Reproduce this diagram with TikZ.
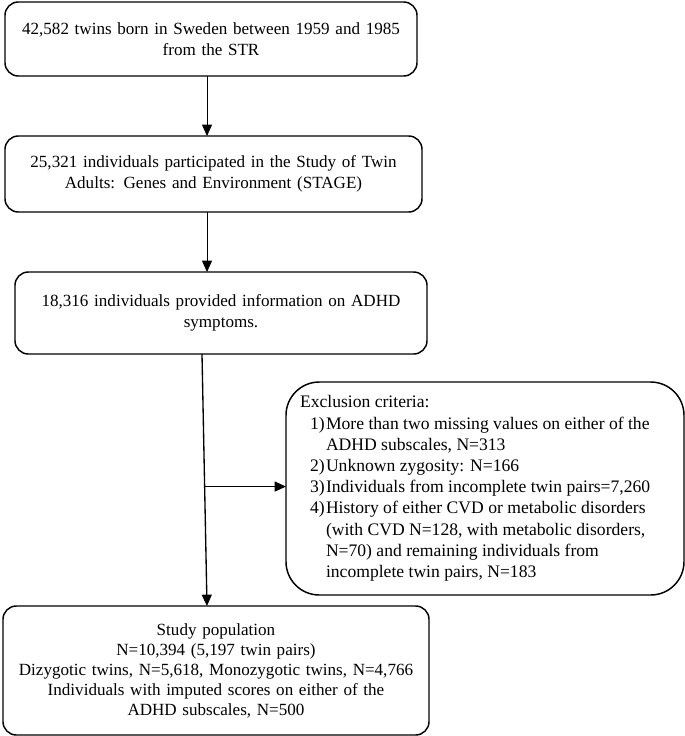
\documentclass[tikz,border=0pt]{standalone}
\usepackage{fontspec}
\setmainfont{Liberation Serif}
\usepackage{tikz}
\usetikzlibrary{shapes.geometric, arrows.meta, positioning}
\tikzstyle{flowbox} =
[rectangle, rounded corners = 10pt, minimum width = 309pt, minimum height = 56pt,
inner sep = 0pt, outer sep = 0pt, text centered, text width = 305pt,
draw=black, line width = 1.1pt]
\tikzstyle{exclbox} =
[rectangle, rounded corners = 25pt, minimum width = 298.5pt, minimum height = 159.75pt,
inner sep = 0pt, outer sep = 0pt, align = left, draw=black, line width = 1.1pt,
font = \fontsize{13.2}{15.9}\selectfont]
\tikzstyle{line} = [draw, line width = 0.6pt, -{Triangle[width=7.5pt,length=8.5pt]}]
\tikzstyle{mainline} = [line, line width = 1pt]
% lines of the exclusion box
\newcommand{\exhead}[1]{\makebox[277.5pt][l]{#1}}
\newcommand{\exitem}[2]{\makebox[277.5pt][l]{\hspace*{7.5pt}\makebox[12pt][l]{#1}#2}}
\newcommand{\excont}[1]{\makebox[277.5pt][l]{\hspace*{19.5pt}#1}}

\begin{document}
\begin{tikzpicture}[node distance = 100pt, font = \fontsize{12.8}{15.75}\selectfont]
  \useasboundingbox (0,0) rectangle (513.75pt,-552pt);
  % main column nodes
  \node [flowbox, minimum height = 55.5pt] (twins) at (158.25pt,-29.25pt)
   {42,582 twins born in Sweden between 1959 and 1985\\ from the STR};
  \node [flowbox, below of=twins, node distance = 101.25pt, xshift = 1.875pt,
   minimum width = 312.75pt, minimum height = 57pt] (stage)
   {25,321 individuals participated in the Study of Twin\\ Adults: Genes and Environment (STAGE)};
  \node [flowbox, below of=stage, node distance = 104.25pt, xshift = 5.625pt,
   minimum height = 61.5pt] (adhd)
   {18,316 individuals provided information on ADHD\\ symptoms.};
  \node [flowbox, below of=adhd, node distance = 268.125pt, xshift = -3.75pt,
   minimum width = 319.5pt, minimum height = 96.75pt,
   font = \fontsize{12.8}{15}\selectfont] (studypop)
   {Study population\\ N=10,394 (5,197 twin pairs)\\
    Dizygotic twins, N=5,618, Monozygotic twins, N=4,766\\
    Individuals with imputed scores on either of the\\ ADHD subscales, N=500};
  % side node
  \node [exclbox, below of=adhd, node distance = 131.625pt, xshift = 198pt] (excl)
   {\exhead{Exclusion criteria:}\\
    \exitem{1)}{More than two missing values on either of the}\\
    \excont{ADHD subscales, N=313}\\
    \exitem{2)}{Unknown zygosity: N=166}\\
    \exitem{3)}{Individuals from incomplete twin pairs=7,260}\\
    \exitem{4)}{History of either CVD or metabolic disorders}\\
    \excont{(with CVD N=128, with metabolic disorders,}\\
    \excont{N=70) and remaining individuals from}\\
    \excont{incomplete twin pairs, N=183}};
  % edges
  \path [line] ([xshift=-3pt]twins.south) -- ([xshift=-3pt]twins.south |- stage.north);
  \path [line] ([xshift=-4.875pt]stage.south) -- ([xshift=-4.875pt]stage.south |- adhd.north);
  \path [mainline] ([xshift=-14.25pt]adhd.south) -- ([xshift=-6.75pt]studypop.north)
   coordinate [pos=0.526] (split);
  \path [mainline] (split) -- (split -| excl.west);
\end{tikzpicture}
\end{document}
